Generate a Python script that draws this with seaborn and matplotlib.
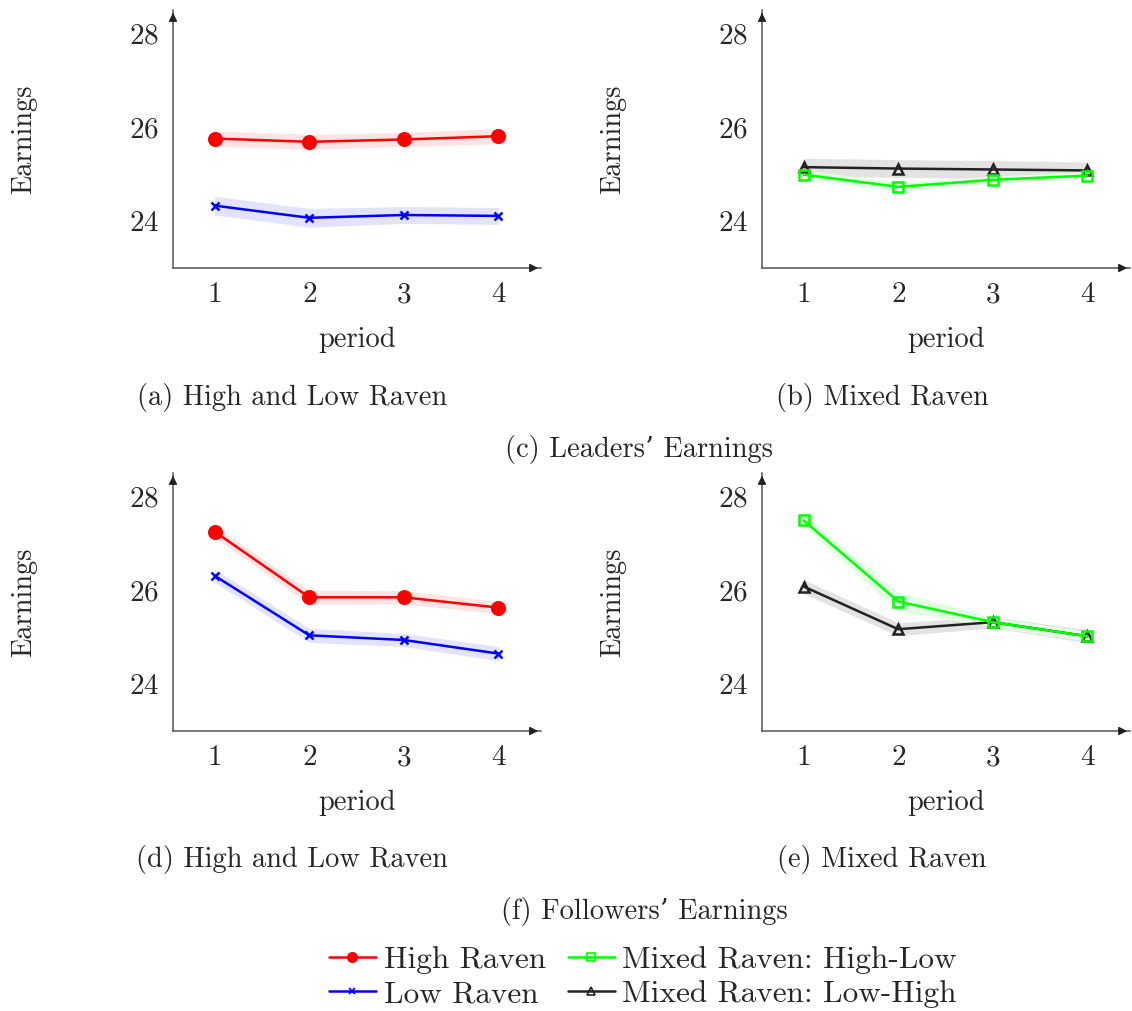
import seaborn as sns
import matplotlib.pyplot as plt

# data
periods = [1, 2, 3, 4]

lead_high = [25.76, 25.69, 25.74, 25.81]
lead_high_err = [0.16, 0.16, 0.15, 0.16]
lead_low = [24.33, 24.07, 24.13, 24.11]
lead_low_err = [0.20, 0.20, 0.18, 0.18]
lead_mix_hl = [24.99, 24.73, 24.88, 24.97]
lead_mix_hl_err = [0.10, 0.10, 0.08, 0.08]
lead_mix_lh = [25.15, 25.12, 25.10, 25.08]
lead_mix_lh_err = [0.19, 0.19, 0.19, 0.18]

fol_high = [27.25, 25.85, 25.85, 25.63]
fol_high_err = [0.12, 0.15, 0.14, 0.13]
fol_low = [26.31, 25.04, 24.94, 24.65]
fol_low_err = [0.14, 0.15, 0.14, 0.15]
fol_mix_hl = [27.49, 25.76, 25.32, 25.02]
fol_mix_hl_err = [0.12, 0.20, 0.10, 0.10]
fol_mix_lh = [26.08, 25.17, 25.32, 25.02]
fol_mix_lh_err = [0.15, 0.14, 0.12, 0.14]

labels = ['High Raven', 'Low Raven', 'Mixed Raven: High-Low', 'Mixed Raven: Low-High']
colors = ['#ff0000', '#0000ff', '#00ff00', '#222222']
bands = ['#fde3e3', '#e3e3fd', '#e3fde3', '#e3e3e3']
markers = ['o', 'x', 's', '^']
msizes = [9, 6, 7.5, 7]

captions = ['(a) High and Low Raven', '(b) Mixed Raven',
            '(d) High and Low Raven', '(e) Mixed Raven']

sns.set_style('white')
plt.rcParams['font.family'] = ['cmr10', 'DejaVu Serif']
plt.rcParams['axes.formatter.use_mathtext'] = True
plt.rcParams['mathtext.fontset'] = 'cm'

W, H = 1132, 1011
fig = plt.figure(figsize=(W / 100, H / 100), dpi=100)


def add_panel(left, top, right, bottom):
    return fig.add_axes([left / W, 1 - bottom / H, (right - left) / W, (bottom - top) / H])


def draw(ax, series, idx, caption, cap_x):
    for (y, err), i in zip(series, idx):
        lo = [v - e for v, e in zip(y, err)]
        hi = [v + e for v, e in zip(y, err)]
        ax.fill_between(periods, lo, hi, color=bands[i], lw=0, zorder=1)
        filled = i == 0
        sns.lineplot(x=periods, y=y, ax=ax, color=colors[i], lw=1.8,
                     marker=markers[i], markersize=msizes[i],
                     markerfacecolor=colors[i] if filled else 'none',
                     markeredgecolor=colors[i], markeredgewidth=1.8,
                     label=labels[i], zorder=3)
    ax.set_xlim(0.56, 4.45)
    ax.set_ylim(23, 28.5)
    ax.set_xticks(periods)
    ax.set_yticks([24, 26, 28])
    ax.tick_params(direction='inout', length=8, color='#999999', labelsize=21,
                   width=1, pad=6)
    ax.set_xlabel('period', fontsize=20.5, labelpad=13)
    ax.set_ylabel('Earnings', fontsize=20.5, labelpad=66)
    for s in ['top', 'right']:
        ax.spines[s].set_visible(False)
    for s in ['left', 'bottom']:
        ax.spines[s].set_color('#555555')
        ax.spines[s].set_linewidth(1.1)
    ax.annotate('', xy=(1.0, 0), xytext=(0.97, 0), xycoords='axes fraction',
                arrowprops=dict(arrowstyle='-|>', color='#222222', lw=1.1, mutation_scale=12))
    ax.annotate('', xy=(0, 1.0), xytext=(0, 0.97), xycoords='axes fraction',
                arrowprops=dict(arrowstyle='-|>', color='#222222', lw=1.1, mutation_scale=12))
    ax.get_legend().remove()
    bottom = ax.get_position().y0
    fig.text(cap_x / W, bottom - 129 / H, caption, ha='center', va='center', fontsize=20.5)


ax_a = add_panel(173, 10, 541, 268)
ax_b = add_panel(762, 10, 1130, 268)
ax_d = add_panel(173, 473, 541, 731)
ax_e = add_panel(762, 473, 1130, 731)

draw(ax_a, [(lead_high, lead_high_err), (lead_low, lead_low_err)], [0, 1], captions[0], 292)
draw(ax_b, [(lead_mix_lh, lead_mix_lh_err), (lead_mix_hl, lead_mix_hl_err)], [3, 2], captions[1], 882)
draw(ax_d, [(fol_high, fol_high_err), (fol_low, fol_low_err)], [0, 1], captions[2], 292)
draw(ax_e, [(fol_mix_lh, fol_mix_lh_err), (fol_mix_hl, fol_mix_hl_err)], [3, 2], captions[3], 882)

fig.text(639 / W, 1 - 450 / H, '(c) Leaders\u2019 Earnings', ha='center', va='center', fontsize=20.5)
fig.text(644 / W, 1 - 912 / H, '(f) Followers\u2019 Earnings', ha='center', va='center', fontsize=20.5)

ha, la = ax_a.get_legend_handles_labels()
hb, lb = ax_b.get_legend_handles_labels()
handles = [ha[0], ha[1], hb[1], hb[0]]
names = [la[0], la[1], lb[1], lb[0]]
leg = fig.legend(handles, names, ncol=2, loc='center', bbox_to_anchor=(643 / W, 1 - 977 / H),
                 frameon=False, fontsize=22.5, handlelength=1.5, handletextpad=0.25,
                 columnspacing=0.7, labelspacing=0.2, markerscale=0.75)
for h in leg.legend_handles:
    h.set_markeredgewidth(1.2)

fig.savefig('out.png', dpi=100)
